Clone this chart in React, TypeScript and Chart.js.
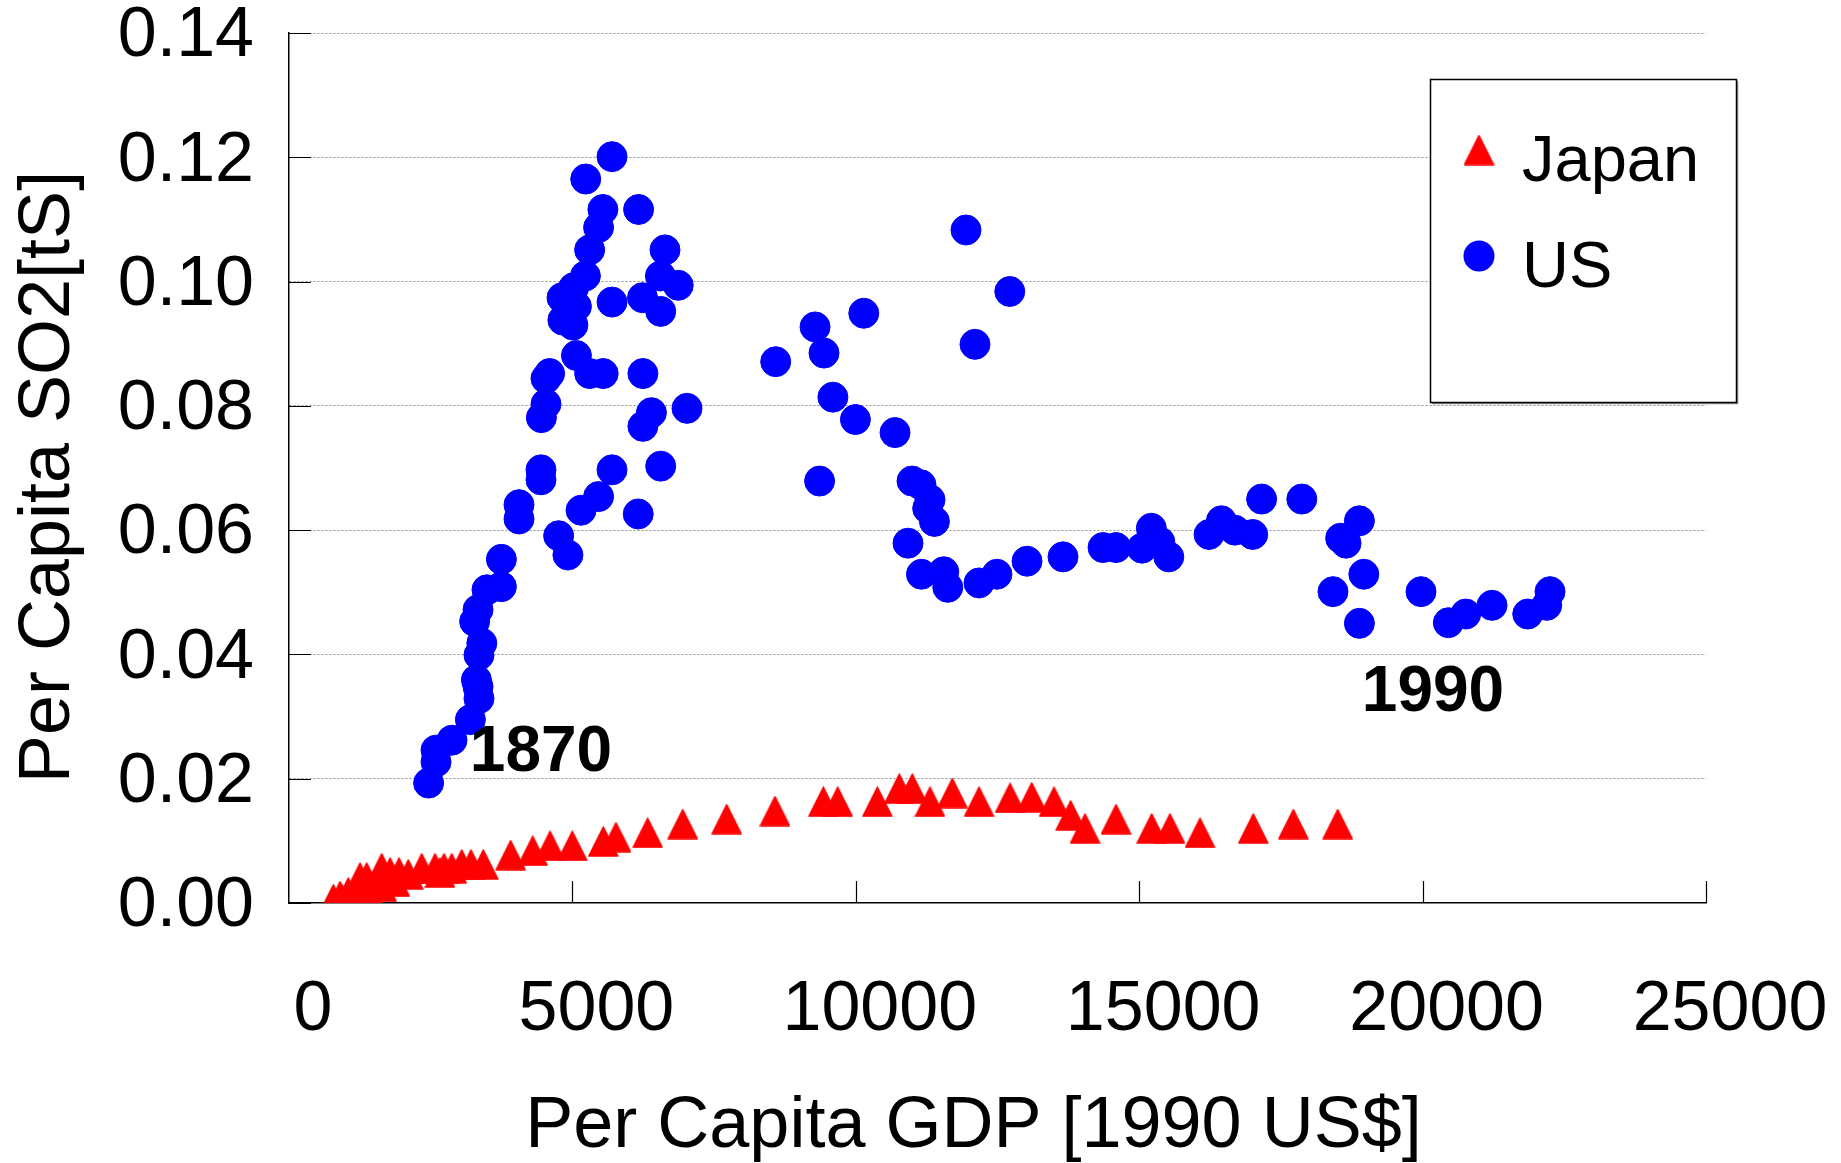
import React, { useEffect, useRef } from "react";
import { Chart, registerables } from "chart.js";

Chart.register(...registerables);

// ---------- data ----------
const seriesNames = ["Japan", "US"];

const japanGdp = [
  782, 900, 930, 1046, 1164, 1253, 1371, 1399, 1636, 1636, 1782, 1870, 1941, 2105,
  2341, 2576, 2664, 2735, 2871, 3047, 3211, 3428, 3911, 4300, 4605, 4998, 5545, 5769,
  6328, 6946, 7722, 8574, 9427, 9681, 10380, 10767, 10997, 11309, 11703, 12174, 12721,
  13104, 13497, 13791, 14044, 14591, 15221, 15543, 16073, 17013, 17719, 18502,
];
const japanSo2 = [
  0.0006, 0.0011, 0.0006, 0.0017, 0.0013, 0.0041, 0.0041, 0.0019, 0.0026, 0.0056, 0.0049,
  0.0034, 0.0049, 0.0046, 0.0056, 0.0056, 0.0049, 0.0056, 0.0056, 0.0062, 0.0062, 0.0062,
  0.0077, 0.0084, 0.0092, 0.0092, 0.0099, 0.0106, 0.0113, 0.0127, 0.0135, 0.0148, 0.0163,
  0.0163, 0.0163, 0.0184, 0.0184, 0.0163, 0.0177, 0.0163, 0.0169, 0.017, 0.0163, 0.0141,
  0.012, 0.0135, 0.012, 0.012, 0.0113, 0.012, 0.0127, 0.0127,
];

const usGdp = [
  2463, 2594, 2594, 2876, 3200, 3352, 3335, 3306, 3352, 3402, 3275, 3335, 3493, 3747,
  3747, 4058, 4058, 4446, 4446, 4453, 4534, 4534, 4598, 4832, 4817, 5009, 5071, 5021,
  5229, 5304, 5462, 5538, 5235, 5699, 5071, 5304, 5543, 5699, 6168, 6237, 6558, 6634,
  6553, 6867, 6244, 6394, 6244, 7022, 5699, 6558, 5462, 5152, 6161, 4757, 4921, 8587,
  9281, 9439, 9596, 9361, 10141, 9993, 10692, 11944, 12717, 12103, 10992, 11150, 11309,
  11268, 11387, 10921, 11158, 11552, 11623, 12174, 12490, 13021, 13656, 14362, 14591,
  15050, 15214, 15364, 15522, 16232, 16450, 16687, 17003, 17160, 17869, 18554, 18649,
  18885, 18419, 18963, 18885, 19972, 20454, 20761, 21225, 21855, 22190, 22248,
];
const usSo2 = [
  0.0193, 0.0227, 0.0246, 0.0262, 0.0295, 0.0329, 0.0348, 0.0359, 0.0399, 0.0418, 0.0453,
  0.0472, 0.0504, 0.0509, 0.0553, 0.0618, 0.0641, 0.0681, 0.0697, 0.0781, 0.0803, 0.0844,
  0.0852, 0.0938, 0.0974, 0.093, 0.096, 0.099, 0.1009, 0.1051, 0.1087, 0.1116, 0.1165,
  0.1201, 0.0881, 0.0852, 0.0852, 0.0967, 0.1116, 0.0974, 0.0952, 0.1051, 0.1009, 0.0994,
  0.0852, 0.0789, 0.0767, 0.0796, 0.0697, 0.0703, 0.0654, 0.0632, 0.0626, 0.0591, 0.056,
  0.0871, 0.0927, 0.0885, 0.0814, 0.0679, 0.0949, 0.0778, 0.0757, 0.1083, 0.0984, 0.0899,
  0.0679, 0.0673, 0.0649, 0.0635, 0.0614, 0.0579, 0.0529, 0.0533, 0.0508, 0.0515, 0.0529,
  0.055, 0.0557, 0.0572, 0.0572, 0.0571, 0.0603, 0.0581, 0.0557, 0.0593, 0.0615, 0.06,
  0.0593, 0.065, 0.065, 0.0587, 0.0579, 0.0615, 0.0501, 0.0529, 0.045, 0.0501, 0.0451,
  0.0465, 0.0479, 0.0465, 0.0479, 0.0501,
];

const xTicks = [0, 5000, 10000, 15000, 20000, 25000];
const yTicks = [0, 0.02, 0.04, 0.06, 0.08, 0.1, 0.12, 0.14];

const annotationTexts = ["1870", "1990"];
const annotationX = [4446, 20184];
const annotationY = [0.0241, 0.0338];

const xTitle = "Per Capita GDP [1990 US$]";
const yTitle = "Per Capita SO2[tS]";

// ---------- styling ----------
const FONT = "'Liberation Sans', Arial, Helvetica, sans-serif";
const RED = "#ff0000";
const BLUE = "#0000ff";

function makeTriangle(): HTMLCanvasElement {
  const c = document.createElement("canvas");
  c.width = 31;
  c.height = 31;
  const g = c.getContext("2d")!;
  g.fillStyle = RED;
  g.strokeStyle = RED;
  g.lineWidth = 1.5;
  g.lineJoin = "round";
  g.beginPath();
  g.moveTo(15.5, 1);
  g.lineTo(30, 30);
  g.lineTo(1, 30);
  g.closePath();
  g.fill();
  g.stroke();
  return c;
}

export default function App() {
  const ref = useRef<HTMLCanvasElement>(null);

  useEffect(() => {
    document.body.style.margin = "0";
    const tri = makeTriangle();

    const innerTicks = {
      id: "innerTicks",
      beforeDatasetsDraw(chart: any) {
        const { ctx, chartArea } = chart;
        const xs = chart.scales.x;
        const ys = chart.scales.y;
        ctx.save();
        ctx.strokeStyle = "#000";
        ctx.lineWidth = 1.2;
        ctx.beginPath();
        yTicks.forEach((v) => {
          const y = Math.round(ys.getPixelForValue(v)) + 0.5;
          ctx.moveTo(chartArea.left, y);
          ctx.lineTo(chartArea.left + 22, y);
        });
        xTicks.forEach((v) => {
          if (v === 0) return;
          const x = Math.round(xs.getPixelForValue(v)) + 0.5;
          ctx.moveTo(x, chartArea.bottom);
          ctx.lineTo(x, chartArea.bottom - 22);
        });
        ctx.stroke();
        ctx.restore();
      },
    };

    const overlay = {
      id: "overlay",
      afterDraw(chart: any) {
        const { ctx, chartArea } = chart;
        const xs = chart.scales.x;
        const ys = chart.scales.y;
        ctx.save();
        ctx.fillStyle = "#000";
        // x axis title (offset left of plot centre as in the original)
        ctx.font = `72px ${FONT}`;
        ctx.textAlign = "center";
        ctx.textBaseline = "alphabetic";
        ctx.fillText(xTitle, (chartArea.left + chartArea.right) / 2 - 24, 1147);
        // y axis title (rotated, slightly below plot centre as in the original)
        ctx.save();
        ctx.translate(49, (chartArea.top + chartArea.bottom) / 2 + 9);
        ctx.rotate(-Math.PI / 2);
        ctx.textBaseline = "middle";
        ctx.fillText(yTitle, 0, 0);
        ctx.restore();
        // annotations
        ctx.font = `bold 64px ${FONT}`;
        ctx.textAlign = "center";
        ctx.textBaseline = "middle";
        annotationTexts.forEach((t, i) => {
          ctx.fillText(t, xs.getPixelForValue(annotationX[i]), ys.getPixelForValue(annotationY[i]));
        });
        // legend box
        const bx = 1430, by = 79, bw = 306, bh = 323;
        ctx.fillStyle = "#fff";
        ctx.fillRect(bx, by, bw, bh);
        ctx.strokeStyle = "#8c8c8c";
        ctx.lineWidth = 1.5;
        ctx.beginPath();
        ctx.moveTo(bx + bw + 1.5, by + 2);
        ctx.lineTo(bx + bw + 1.5, by + bh + 1.5);
        ctx.lineTo(bx + 2, by + bh + 1.5);
        ctx.stroke();
        ctx.strokeStyle = "#000";
        ctx.lineWidth = 1.5;
        ctx.strokeRect(bx + 0.5, by + 0.5, bw, bh);
        // Japan entry
        ctx.drawImage(tri, 1479 - 15.5, 150 - 15.5);
        // US entry
        ctx.fillStyle = BLUE;
        ctx.beginPath();
        ctx.arc(1479, 256, 15.5, 0, Math.PI * 2);
        ctx.fill();
        ctx.fillStyle = "#000";
        ctx.font = `65px ${FONT}`;
        ctx.textAlign = "left";
        ctx.textBaseline = "alphabetic";
        ctx.fillText(seriesNames[0], 1522, 181);
        ctx.fillText(seriesNames[1], 1522, 287);
        ctx.restore();
      },
    };

    const chart = new Chart(ref.current!, {
      type: "scatter",
      data: {
        datasets: [
          {
            label: seriesNames[0],
            data: japanGdp.map((x, i) => ({ x, y: japanSo2[i] })),
            pointStyle: tri as any,
            backgroundColor: RED,
            borderColor: RED,
          },
          {
            label: seriesNames[1],
            data: usGdp.map((x, i) => ({ x, y: usSo2[i] })),
            pointStyle: "circle",
            pointRadius: 15,
            borderWidth: 1,
            backgroundColor: BLUE,
            borderColor: BLUE,
          },
        ],
      },
      options: {
        responsive: false,
        animation: false,
        devicePixelRatio: 1,
        events: [],
        layout: { padding: { top: 33, right: 135, bottom: 0, left: 0 } },
        plugins: {
          legend: { display: false },
          tooltip: { enabled: false },
        },
        scales: {
          x: {
            type: "linear",
            min: 0,
            max: 25000,
            afterBuildTicks: (s: any) => {
              s.ticks = xTicks.map((v) => ({ value: v }));
            },
            afterFit: (s: any) => {
              s.height = 260;
              s.paddingLeft = 0;
              s.paddingRight = 0;
              s.paddingTop = 0;
              s.paddingBottom = 0;
            },
            ticks: {
              color: "#000",
              font: { family: FONT, size: 70 },
              padding: 66,
              labelOffset: 24,
              maxRotation: 0,
              autoSkip: false,
              callback: (v: any) => String(v),
            },
            grid: { drawOnChartArea: false, drawTicks: false, color: "rgba(0,0,0,0)" },
            border: { display: true, color: "#000", width: 1.5 },
            title: { display: false, text: xTitle },
          },
          y: {
            type: "linear",
            min: 0,
            max: 0.14,
            afterBuildTicks: (s: any) => {
              s.ticks = yTicks.map((v) => ({ value: v }));
            },
            afterFit: (s: any) => {
              s.width = 289;
              s.paddingLeft = 0;
              s.paddingRight = 0;
              s.paddingTop = 0;
              s.paddingBottom = 0;
            },
            ticks: {
              color: "#000",
              font: { family: FONT, size: 70 },
              padding: 35,
              labelOffset: 4,
              autoSkip: false,
              callback: (v: any) => Number(v).toFixed(2),
            },
            grid: {
              drawTicks: false,
              lineWidth: 1,
              color: (c: any) => (c.tick && c.tick.value === 0 ? "rgba(0,0,0,0)" : "#8f8f8f"),
            },
            border: { display: true, color: "#000", width: 1.5, dash: [2, 2] },
            title: { display: false, text: yTitle },
          },
        },
      } as any,
      plugins: [innerTicks, overlay],
    });

    return () => chart.destroy();
  }, []);

  return (
    <div style={{ width: 1841, height: 1163, background: "#fff" }}>
      <canvas ref={ref} width={1841} height={1163} style={{ display: "block" }} />
    </div>
  );
}
